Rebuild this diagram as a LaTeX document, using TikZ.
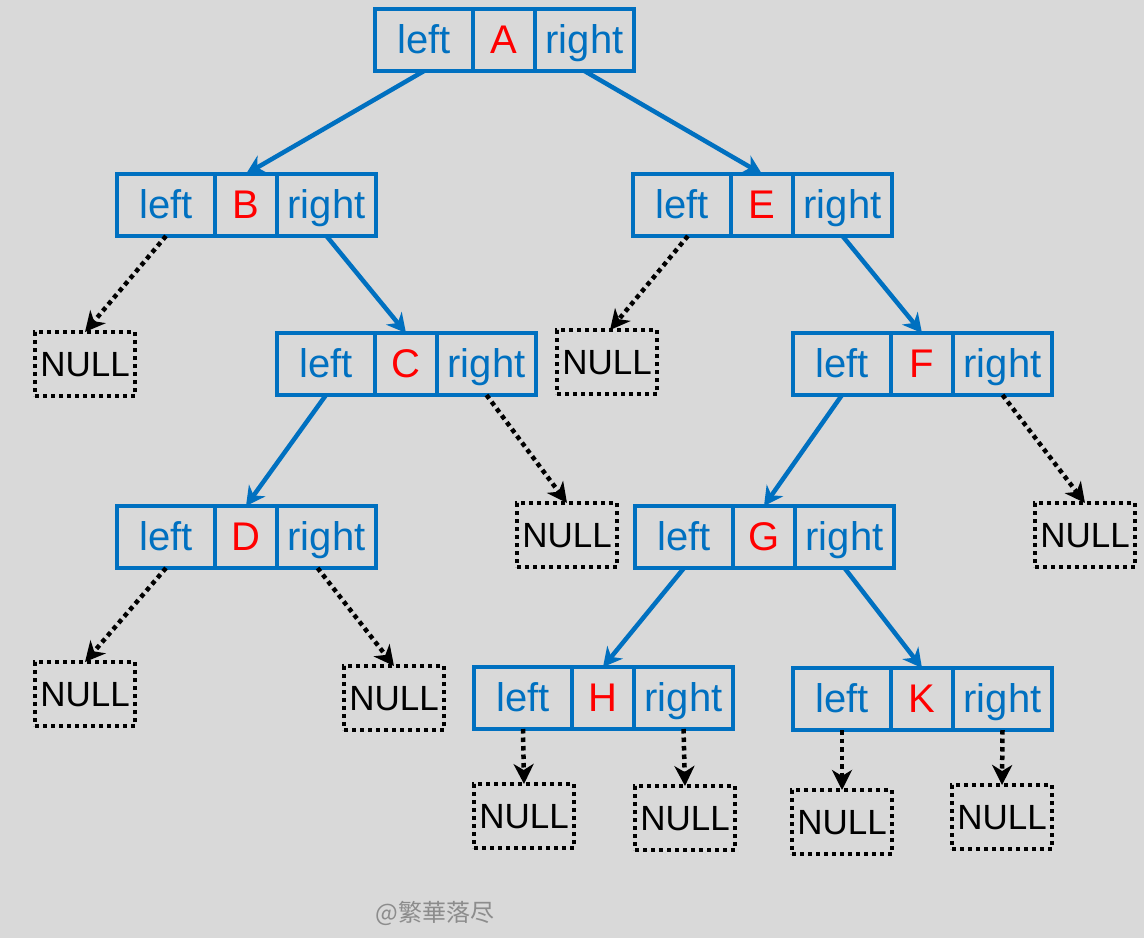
\documentclass[tikz,border=0pt]{standalone}
\usepackage{fontspec}
\setmainfont{Liberation Sans}
\newfontfamily\cjk{Noto Sans CJK SC}
\usetikzlibrary{arrows.meta,calc}
\definecolor{bg}{HTML}{D9D9D9}
\definecolor{tblue}{HTML}{0070C0}
\definecolor{tred}{HTML}{FF0000}
\definecolor{wm}{HTML}{8C8C8C}
\tikzset{
  cellbase/.style={draw=tblue, line width=4.2pt, inner sep=0pt, outer sep=0pt,
    minimum height=62pt, anchor=north west, text height=27pt, text depth=0pt,
    font=\fontsize{40}{40}\selectfont},
  cellL/.style={cellbase, minimum width=98pt, text=tblue},
  cellM/.style={cellbase, minimum width=62pt, text=tred},
  cellR/.style={cellbase, minimum width=99pt, text=tblue},
  nullbox/.style={draw=black, line width=4pt, dash pattern=on 4pt off 4pt,
    minimum width=100pt, minimum height=64pt, inner sep=0pt, outer sep=0pt,
    text height=25pt, text depth=0pt, font=\fontsize{35}{35}\selectfont},
  blarrow/.style={draw=tblue, line width=4.5pt,
    -{Stealth[length=19pt, width=20pt, inset=6pt]}},
  nularrow/.style={draw=black, line width=4.5pt, dash pattern=on 4.5pt off 4pt,
    -{Stealth[length=20pt, width=20pt, inset=6pt]}},
}
\newcommand\tnode[3]{%
  \node[cellL] (#1l) at (#2,#3) {left};
  \node[cellM] (#1m) at (#1l.north east) {#1};
  \node[cellR] (#1r) at (#1m.north east) {right};
}
\begin{document}
\begin{tikzpicture}[x=1pt, y=-1pt]
\fill[bg] (0,0) rectangle (1144,938);
\useasboundingbox (0,0) rectangle (1144,938);
\tnode{A}{375}{9}
\tnode{B}{117}{174}
\tnode{E}{633}{174}
\tnode{C}{277}{333}
\tnode{F}{793}{333}
\tnode{D}{117}{506}
\tnode{G}{635}{506}
\tnode{H}{474}{667}
\tnode{K}{793}{668}
\node[nullbox] (nB) at (85,364) {NULL};
\node[nullbox] (nE) at (607,362) {NULL};
\node[nullbox] (nC) at (567,535) {NULL};
\node[nullbox] (nF) at (1085,535) {NULL};
\node[nullbox] (nD1) at (85,694) {NULL};
\node[nullbox] (nD2) at (394,698) {NULL};
\node[nullbox] (nH1) at (524,816) {NULL};
\node[nullbox] (nH2) at (685,818) {NULL};
\node[nullbox] (nK1) at (842,822) {NULL};
\node[nullbox] (nK2) at (1002,817) {NULL};
\draw[blarrow] (Al.south) -- (Bm.north);
\draw[blarrow] (Ar.south) -- (Em.north);
\draw[nularrow] (Bl.south) -- (nB.north);
\draw[blarrow] (Br.south) -- (Cm.north);
\draw[nularrow] ($(El.south west)!0.56!(El.south east)$) -- ($(nE.north)+(3,0)$);
\draw[blarrow] (Er.south) -- (Fm.north);
\draw[blarrow] (Cl.south) -- (Dm.north);
\draw[nularrow] (Cr.south) -- (nC.north);
\draw[blarrow] (Fl.south) -- (Gm.north);
\draw[nularrow] (Fr.south) -- (nF.north);
\draw[nularrow] (Dl.south) -- (nD1.north);
\draw[nularrow] ($(Dr.south west)!0.41!(Dr.south east)$) -- (nD2.north);
\draw[blarrow] (Gl.south) -- (Hm.north);
\draw[blarrow] (Gr.south) -- (Km.north);
\draw[nularrow] (Hl.south) -- (nH1.north);
\draw[nularrow] (Hr.south) -- (nH2.north);
\draw[nularrow] (Kl.south) -- (nK1.north);
\draw[nularrow] (Kr.south) -- (nK2.north);
\node[text=wm, font=\cjk\fontsize{24}{24}\selectfont] (wmk) at (435,913) {@繁華落尽};
\end{tikzpicture}
\end{document}
